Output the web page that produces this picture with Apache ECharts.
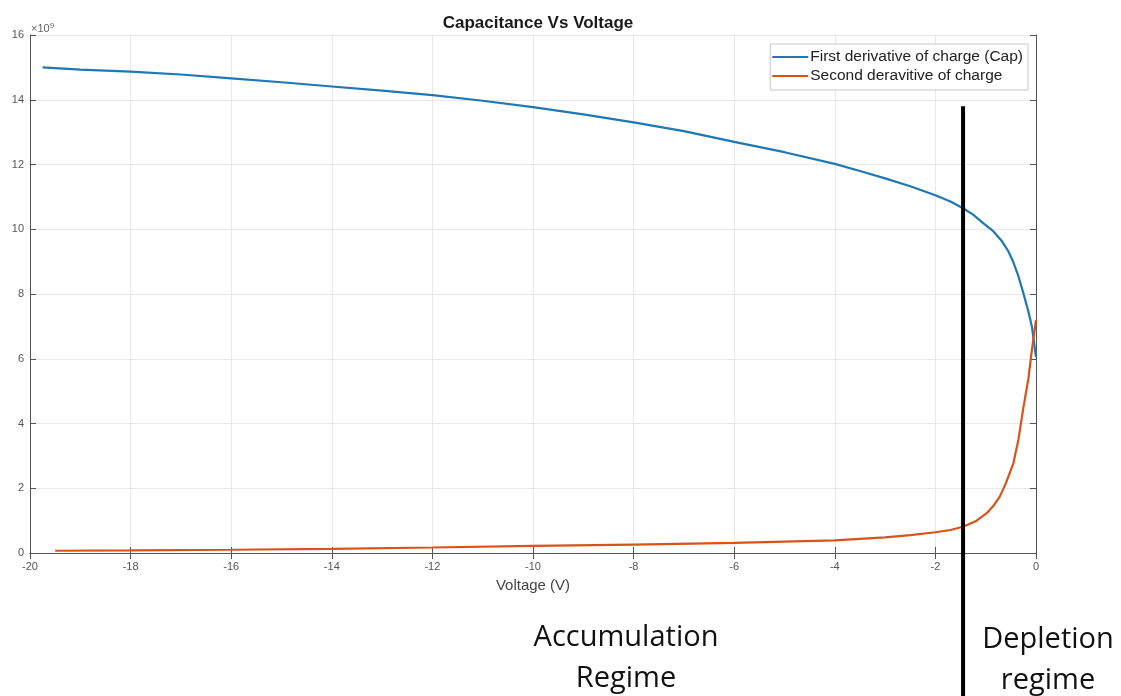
<!DOCTYPE html>
<html><head><meta charset="utf-8">
<script src="https://cdn.jsdelivr.net/npm/echarts@6/dist/echarts.min.js"></script>
<style>html,body{margin:0;padding:0;background:#fff}#c{width:1121px;height:696px}</style>
</head><body><div id="c"></div>
<script>
const titleText = 'Capacitance Vs Voltage';
const xName = 'Voltage (V)';
const seriesNames = ['First derivative of charge (Cap)', 'Second deravitive of charge'];
const capV = [-19.75,-19,-18,-17,-16,-15,-14,-13,-12,-11,-10,-9,-8,-7,-6,-5,-4,-3.5,-3,-2.5,-2,-1.7,-1.45,-1.25,-1.05,-0.85,-0.68,-0.55,-0.45,-0.35,-0.25,-0.15,-0.08,0];
const capY = [15.0,14.93,14.87,14.78,14.66,14.54,14.41,14.28,14.14,13.97,13.77,13.55,13.3,13.03,12.7,12.38,12.02,11.8,11.57,11.33,11.05,10.86,10.65,10.45,10.19,9.94,9.64,9.32,8.98,8.55,8.02,7.45,6.98,6.05];
const d2V = [-19.5,-18,-16,-14,-12,-10,-8,-6,-4,-3,-2.5,-2,-1.7,-1.45,-1.2,-0.98,-0.85,-0.72,-0.6,-0.45,-0.35,-0.25,-0.15,-0.09,0];
const d2Y = [0.07,0.08,0.1,0.13,0.17,0.22,0.26,0.31,0.39,0.48,0.55,0.64,0.71,0.81,0.98,1.23,1.45,1.74,2.15,2.77,3.5,4.5,5.4,6.17,7.2];
const dividerV = -1.45;
const dividerTop = 13.8;
const regimeLabels = ['Accumulation\nRegime', 'Depletion\nregime'];

const chart = echarts.init(document.getElementById('c'), null, {renderer:'canvas'});
const pair = (xs, ys) => xs.map((x,i)=>[x, ys[i]]);
const axisCol = '#555';
const ff = 'Liberation Sans, Arial, sans-serif';
const tickFont = {fontFamily:ff, fontSize:11, color:'#555'};
chart.setOption({
  backgroundColor:'#fff',
  animation:false,
  title:{text:titleText, left:533, textAlign:'center', top:10,
    textStyle:{fontFamily:ff, fontSize:17, fontWeight:'bold', color:'#1a1a1a'}},
  grid:{left:30, right:85, top:35, bottom:143},
  legend:{
    data:seriesNames, orient:'vertical', right:93, top:44,
    icon:'rect', itemWidth:36, itemHeight:2, itemGap:3,
    backgroundColor:'#fff', borderColor:'#c8c8c8', borderWidth:1, padding:[5,5,6,2],
    textStyle:{fontFamily:ff, fontSize:15.5, lineHeight:16, color:'#222', padding:[0,0,0,-3]}
  },
  xAxis:[{
    type:'value', min:-20, max:0, interval:2,
    name:xName, nameLocation:'middle', nameGap:25,
    nameTextStyle:{fontFamily:ff, fontSize:15, color:'#444'},
    axisLine:{onZero:false, lineStyle:{color:axisCol}},
    axisTick:{inside:true, length:6, lineStyle:{color:axisCol}},
    axisLabel:Object.assign({margin:8}, tickFont),
    splitLine:{show:true, lineStyle:{color:'#e8e8e8'}}
  },{
    type:'value', min:-20, max:0, interval:2, position:'top',
    axisLine:{show:true, lineStyle:{color:axisCol}},
    axisTick:{inside:true, length:6, lineStyle:{color:axisCol}},
    axisLabel:{show:false}, splitLine:{show:false}
  }],
  yAxis:[{
    type:'value', min:0, max:16, interval:2,
    axisLine:{show:true, onZero:false, lineStyle:{color:axisCol}},
    axisTick:{show:true, inside:true, length:6, lineStyle:{color:axisCol}},
    axisLabel:Object.assign({margin:6}, tickFont),
    splitLine:{show:true, lineStyle:{color:'#e8e8e8'}}
  },{
    type:'value', min:0, max:16, interval:2, position:'right',
    axisLine:{show:true, lineStyle:{color:axisCol}},
    axisTick:{show:true, inside:true, length:6, lineStyle:{color:axisCol}},
    axisLabel:{show:false}, splitLine:{show:false}
  }],
  graphic:[
    {type:'text', left:31, top:22, style:{rich:{a:{fontSize:11,fill:'#666',fontFamily:ff}, s:{fontSize:8,fill:'#666',verticalAlign:'top',padding:[0,0,6,0],fontFamily:ff}}, text:'{a|×10}{s|9}'}},
    {type:'text', x:626, y:617, style:{text:regimeLabels[0], fill:'#111', font:'29px "Open Sans", sans-serif', align:'center', lineHeight:41}},
    {type:'text', x:1048, y:619, style:{text:regimeLabels[1], fill:'#111', font:'29px "Open Sans", sans-serif', align:'center', lineHeight:41}}
  ],
  series:[
    {name:seriesNames[0], type:'line', data:pair(capV, capY), showSymbol:false, symbol:'none',
      lineStyle:{color:'#1f77b4', width:2.2}, itemStyle:{color:'#1f77b4'}, z:3},
    {name:seriesNames[1], type:'line', data:pair(d2V, d2Y), showSymbol:false, symbol:'none',
      lineStyle:{color:'#D95319', width:2.2}, itemStyle:{color:'#D95319'}, z:3},
    {type:'custom', clip:false, silent:true, z:10, data:[[dividerV, dividerTop]],
      renderItem:function(params, api){
        const p = api.coord([api.value(0), api.value(1)]);
        return {type:'line', shape:{x1:p[0], y1:p[1], x2:p[0], y2:api.getHeight()},
          style:{stroke:'#000', lineWidth:4}};
      }}
  ]
});
</script></body></html>
